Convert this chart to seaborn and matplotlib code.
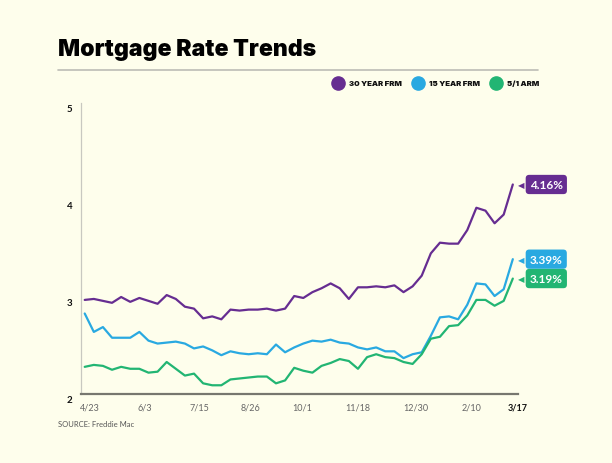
import matplotlib
matplotlib.use("Agg")
import matplotlib.pyplot as plt
import matplotlib.transforms as mtransforms
from matplotlib.lines import Line2D
import pandas as pd
import seaborn as sns

# weekly Freddie Mac PMMS readings, 4/22/2021 .. 3/17/2022
rate_30yr = [2.97, 2.98, 2.96, 2.94, 3.00, 2.95, 2.99, 2.96, 2.93, 3.02,
             2.98, 2.90, 2.88, 2.78, 2.80, 2.77, 2.87, 2.86, 2.87, 2.87,
             2.88, 2.86, 2.88, 3.01, 2.99, 3.05, 3.09, 3.14, 3.09, 2.98,
             3.10, 3.10, 3.11, 3.10, 3.12, 3.05, 3.11, 3.22, 3.45, 3.56,
             3.55, 3.55, 3.69, 3.92, 3.89, 3.76, 3.85, 4.16]
rate_15yr = [2.83, 2.64, 2.69, 2.58, 2.58, 2.58, 2.64, 2.55, 2.52, 2.53,
             2.54, 2.52, 2.47, 2.49, 2.45, 2.40, 2.44, 2.42, 2.41, 2.42,
             2.41, 2.51, 2.43, 2.48, 2.52, 2.55, 2.54, 2.56, 2.53, 2.52,
             2.48, 2.46, 2.48, 2.44, 2.44, 2.37, 2.41, 2.43, 2.60, 2.79,
             2.80, 2.77, 2.92, 3.14, 3.13, 3.01, 3.08, 3.39]
rate_arm = [2.28, 2.30, 2.29, 2.25, 2.28, 2.26, 2.26, 2.22, 2.23, 2.33,
            2.26, 2.19, 2.21, 2.11, 2.09, 2.09, 2.15, 2.16, 2.17, 2.18,
            2.18, 2.11, 2.14, 2.27, 2.24, 2.22, 2.29, 2.32, 2.36, 2.34,
            2.26, 2.38, 2.41, 2.38, 2.37, 2.33, 2.31, 2.41, 2.57, 2.59,
            2.70, 2.71, 2.81, 2.97, 2.97, 2.91, 2.96, 3.19]

series_names = ["30 YEAR FRM", "15 YEAR FRM", "5/1 ARM"]
series_colors = ["#662d91", "#29a9e1", "#22b573"]
tick_labels = ["4/23", "6/3", "7/15", "8/26", "10/1", "11/18", "12/30", "2/10", "3/17"]
tick_weeks = [0.6, 6.6, 12.6, 18.2, 23.9, 30.0, 36.3, 42.5, 47.5]

BG = "#fefeec"


def main():
    sns.set_style("white")
    plt.rcParams["font.family"] = ["Lato", "DejaVu Sans"]

    frames = []
    for name, vals in zip(series_names, [rate_30yr, rate_15yr, rate_arm]):
        frames.append(pd.DataFrame({"week": range(len(vals)), "rate": vals, "series": name}))
    df = pd.concat(frames, ignore_index=True)

    fig = plt.figure(figsize=(6.12, 4.64), dpi=100, facecolor=BG)
    ax = fig.add_axes([80.7 / 612, 69 / 464, 437.3 / 612, 291 / 464])
    ax.set_facecolor(BG)

    sns.lineplot(data=df, x="week", y="rate", hue="series", hue_order=series_names,
                 palette=series_colors, linewidth=1.6, legend=False, ax=ax)

    ax.set_xlim(-0.44, 47.57)
    ax.set_ylim(2, 5)
    ax.set_xlabel("")
    ax.set_ylabel("")

    for side in ["top", "right"]:
        ax.spines[side].set_visible(False)
    ax.spines["left"].set_color("#c8c8c0")
    ax.spines["left"].set_linewidth(0.9)
    ax.spines["bottom"].set_color("#77776f")
    ax.spines["bottom"].set_linewidth(1.6)

    # y axis
    ax.set_yticks([2, 3, 4, 5])
    ax.set_yticklabels(["2", "3", "4", "5"], fontsize=7, fontweight="bold", color="#111")
    ax.tick_params(axis="y", length=0, pad=6)
    shift = mtransforms.ScaledTranslation(0, -5 / 100, fig.dpi_scale_trans)
    for lab in ax.get_yticklabels():
        lab.set_transform(lab.get_transform() + shift)
    ax.set_yticks([3, 5], minor=True)
    ax.tick_params(axis="y", which="minor", direction="in", length=7, color="#c8c8c0", width=0.9)

    # x axis
    ax.set_xticks(tick_weeks)
    ax.set_xticklabels(tick_labels, fontsize=6.5, color="#666")
    ax.tick_params(axis="x", which="major", length=0, pad=6)
    ax.get_xticklabels()[-1].set_fontweight("bold")
    ax.get_xticklabels()[-1].set_color("#111")
    ax.set_xticks([w + 0.5 for w in range(48)], minor=True)
    ax.tick_params(axis="x", which="minor", direction="in", length=5, color="#999990", width=0.8)

    # end labels
    for vals, color in zip([rate_30yr, rate_15yr, rate_arm], series_colors):
        last = vals[-1]
        ax.annotate(f"{last:.2f}%", xy=(len(vals) - 1, last), xytext=(17, 0),
                    textcoords="offset pixels", ha="left", va="center",
                    fontsize=8.5, fontweight="bold", color="white", annotation_clip=False,
                    bbox=dict(boxstyle="round,pad=0.35,rounding_size=0.3", fc=color, ec="none"))
        ax.annotate("\u25c0", xy=(len(vals) - 1, last), xytext=(5, 0),
                    textcoords="offset pixels", ha="left", va="center",
                    fontsize=6, color=color, family="DejaVu Sans", annotation_clip=False)

    # title, rule, legend, source
    fig.text(58 / 612, 1 - 50 / 464, "Mortgage Rate Trends", fontsize=16.6,
             fontweight="black", color="#000", va="center", ha="left",
             family=["Inter", "DejaVu Sans"])
    fig.add_artist(Line2D([58 / 612, 538 / 612], [1 - 71 / 464] * 2,
                          color="#bdbdb5", lw=1.2, transform=fig.transFigure))
    leg_dot_x = [338, 418, 496]
    for name, color, dx in zip(series_names, series_colors, leg_dot_x):
        fig.add_artist(Line2D([dx / 612], [1 - 84 / 464], marker="o", markersize=9.5,
                              color=color, ls="", transform=fig.transFigure))
        fig.text((dx + 11) / 612, 1 - 84 / 464, name, fontsize=5.6, fontweight="black",
                 color="#111", va="center", ha="left", family=["Inter", "DejaVu Sans"])
    fig.text(58 / 612, 1 - 425 / 464, "SOURCE: Freddie Mac", fontsize=5.5,
             color="#555", va="center", ha="left")

    fig.savefig("out.png", dpi=100, facecolor=BG)


if __name__ == "__main__":
    main()
